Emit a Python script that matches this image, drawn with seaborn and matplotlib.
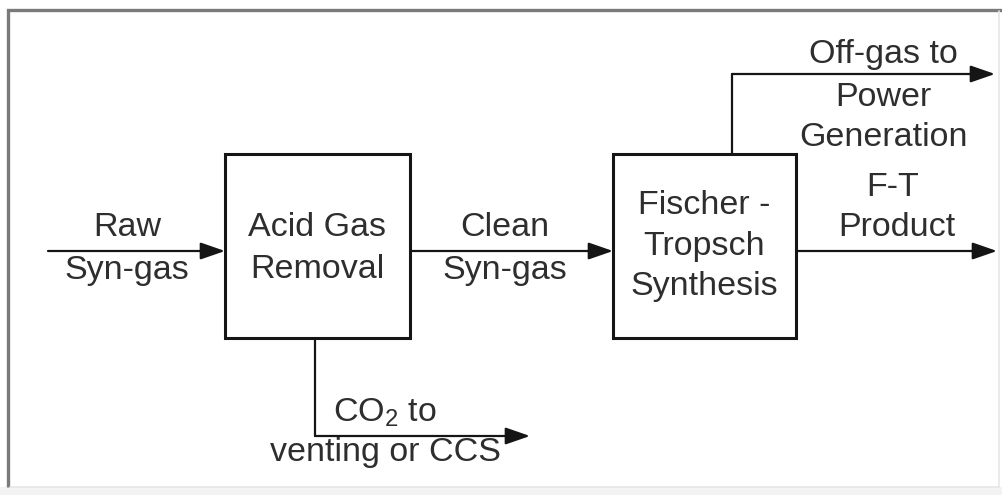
import matplotlib
matplotlib.use("Agg")
import matplotlib.pyplot as plt
import matplotlib.patches as mpatches
import pandas as pd
import seaborn as sns

# Process blocks: label lines, left, top, right, bottom (pixel space)
block_names = ["Acid Gas\nRemoval", "Fischer -\nTropsch\nSynthesis"]
block_left = [225, 613]
block_top = [154, 154]
block_right = [410, 796]
block_bottom = [338, 338]
block_text_y = [[228, 270], [206, 247, 287]]

# Stream paths (polyline points, last segment carries the arrow head)
stream_names = ["raw", "clean", "product", "offgas", "co2"]
stream_x = [[48, 225], [410, 613], [796, 997], [732, 732, 995], [315, 315, 530]]
stream_y = [[251, 251], [251, 251], [251, 251], [154, 74, 74], [338, 436, 436]]

# Stream labels
label_text = ["Raw", "Syn-gas", "Clean", "Syn-gas", "Off-gas to", "Power",
              "Generation", "F-T", "Product", "CO$_2$ to", "venting or CCS"]
label_x = [127, 127, 505, 505, 883, 883, 884, 893, 897, 385, 385]
label_y = [228, 270, 228, 270, 55, 97, 137, 188, 228, 413, 453]

sns.set_theme(style="white")
plt.rcParams["font.family"] = ["Liberation Sans", "DejaVu Sans"]
plt.rcParams["mathtext.fontset"] = "custom"
plt.rcParams["mathtext.rm"] = "Liberation Sans"

fig = plt.figure(figsize=(10.03, 4.95), dpi=100)
ax = fig.add_axes([0, 0, 1, 1])
ax.set_xlim(0, 1003)
ax.set_ylim(495, 0)
ax.axis("off")

ink = "#151515"
txt = "#2e2e2e"

# Frame (sunken look)
ax.add_patch(mpatches.Rectangle((0, 487), 1003, 8, color="#f3f3f3", zorder=0))
ax.plot([8.5, 8.5, 1003], [487, 9.5, 9.5], color="#7a7a7a", lw=2.4,
        solid_capstyle="butt", solid_joinstyle="miter")
ax.plot([999.5, 999.5], [11, 487], color="#e6e6e6", lw=1.2)
ax.plot([10, 999.5], [487, 487], color="#e6e6e6", lw=1.2)

# Blocks
for i, name in enumerate(block_names):
    w = block_right[i] - block_left[i]
    h = block_bottom[i] - block_top[i]
    ax.add_patch(mpatches.Rectangle((block_left[i], block_top[i]), w, h,
                                    fill=False, edgecolor=ink, lw=2.2,
                                    joinstyle="miter", zorder=3))
    cx = (block_left[i] + block_right[i]) / 2
    for line, y in zip(name.split("\n"), block_text_y[i]):
        ax.text(cx, y, line, ha="center", va="center", fontsize=24.5, color=txt)

# Streams: draw leading segments with seaborn, last one as an arrow
for k, name in enumerate(stream_names):
    xs, ys = stream_x[k], stream_y[k]
    if len(xs) > 2:
        seg = pd.DataFrame({"x": xs[:-1], "y": ys[:-1], "order": range(len(xs) - 1)})
        sns.lineplot(data=seg, x="x", y="y", sort=False, estimator=None,
                     color=ink, lw=1.6, ax=ax)
    arrow = mpatches.FancyArrowPatch(
        (xs[-2], ys[-2]), (xs[-1], ys[-1]),
        arrowstyle=mpatches.ArrowStyle("-|>", head_length=15, head_width=5.2),
        color=ink, lw=1.6, shrinkA=0, shrinkB=0, mutation_scale=1, zorder=4)
    ax.add_patch(arrow)

ax.set_xlim(0, 1003)
ax.set_ylim(495, 0)
ax.set_xlabel("")
ax.set_ylabel("")

for t, x, y in zip(label_text, label_x, label_y):
    ax.text(x, y, t, ha="center", va="center", fontsize=24.5, color=txt)

fig.savefig("out.png", dpi=100, facecolor="white")
